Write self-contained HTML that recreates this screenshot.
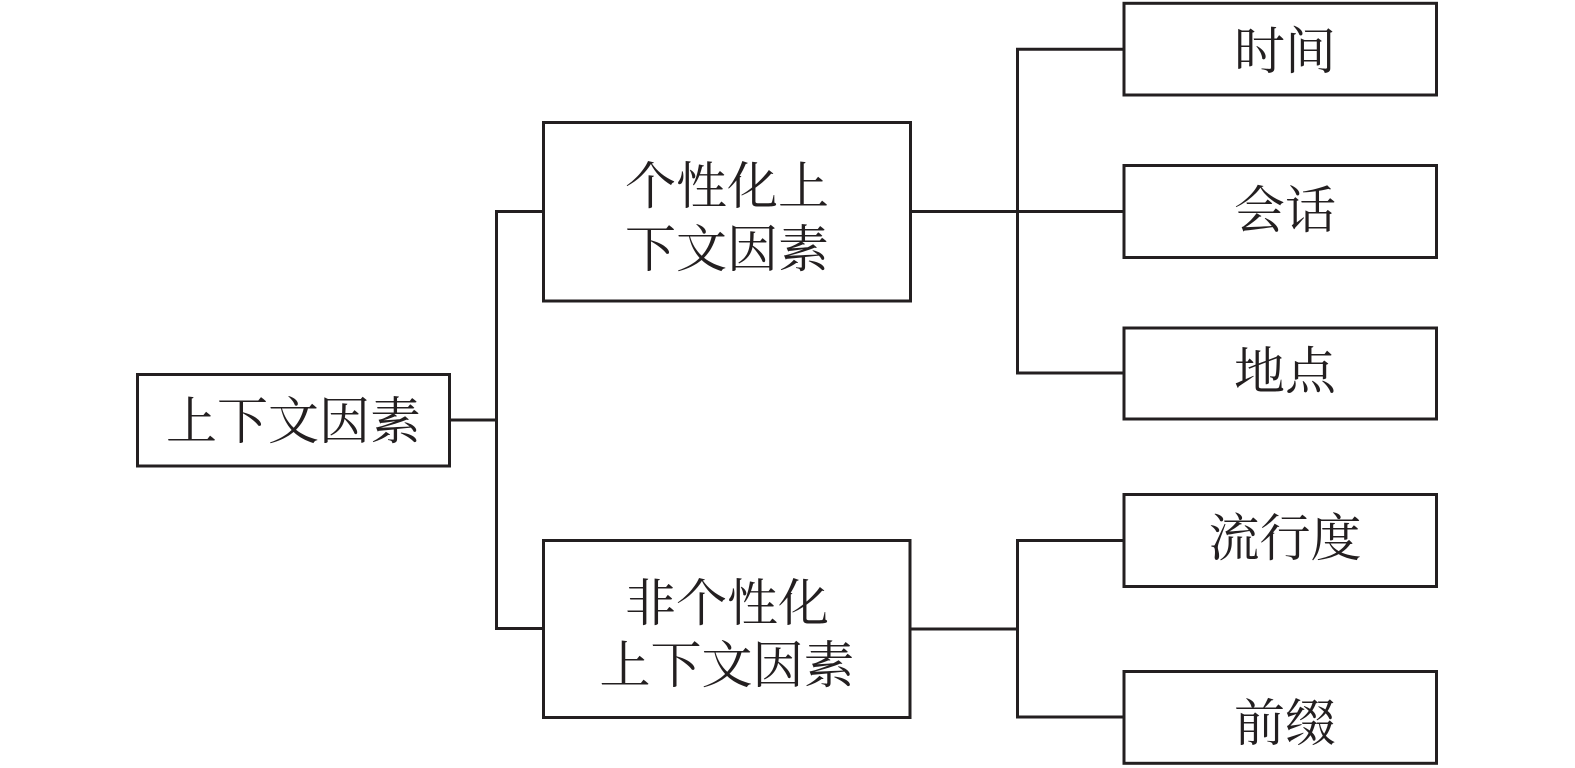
<!DOCTYPE html>
<html>
<head>
<meta charset="utf-8">
<style>
  html, body { margin: 0; padding: 0; background: #ffffff; }
  body { width: 1575px; height: 768px; overflow: hidden; }
  svg { display: block; }
  text { font-family: "Liberation Serif", "Noto Serif CJK SC", "Noto Sans CJK SC", serif; font-size: 51px; fill: #231f20; }
</style>
</head>
<body>
<svg width="1575" height="768" viewBox="0 0 1575 768" xmlns="http://www.w3.org/2000/svg">
  <g fill="none" stroke="#231f20" stroke-width="3">
    <rect x="137.5" y="374.5" width="312" height="91.5"/>
    <rect x="543.5" y="122.5" width="367" height="178.5"/>
    <rect x="543.5" y="540.5" width="366.5" height="177"/>
    <rect x="1124" y="3.3" width="312.5" height="91.7"/>
    <rect x="1124" y="165.5" width="312.5" height="92"/>
    <rect x="1124" y="328" width="312.5" height="91"/>
    <rect x="1124" y="494.5" width="312.5" height="92"/>
    <rect x="1124" y="671.5" width="312.5" height="91.8"/>
    <path d="M451 420 H496.5"/>
    <path d="M543 211.5 H496.5 V628.5 H543"/>
    <path d="M910 211.5 H1124"/>
    <path d="M1124 49.3 H1017.5 V373 H1124"/>
    <path d="M910 629 H1017.5"/>
    <path d="M1124 540.5 H1017.5 V717 H1124"/>
  </g>
  <g text-anchor="middle" dominant-baseline="central">
    <text x="293.5" y="423">上下文因素</text>
    <text x="727" y="188">个性化上</text>
    <text x="727" y="251">下文因素</text>
    <text x="727" y="605">非个性化</text>
    <text x="727" y="667">上下文因素</text>
    <text x="1285" y="53">时间</text>
    <text x="1285" y="212">会话</text>
    <text x="1285" y="373">地点</text>
    <text x="1285" y="540">流行度</text>
    <text x="1285" y="725">前缀</text>
  </g>
</svg>
</body>
</html>
